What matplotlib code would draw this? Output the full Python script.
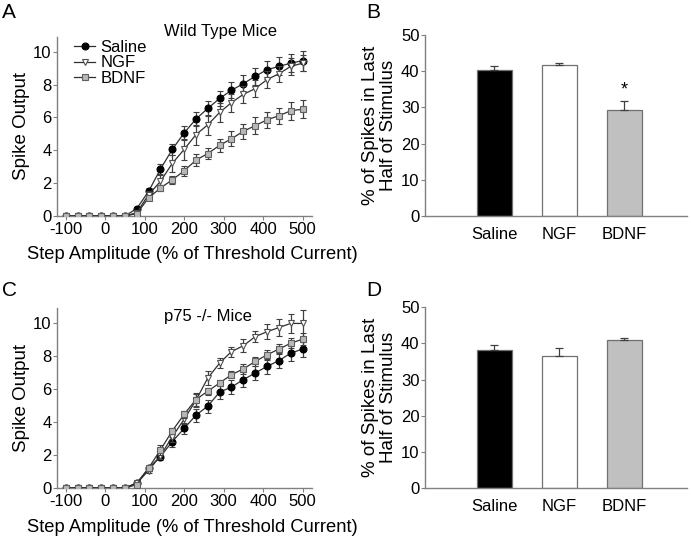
import matplotlib
matplotlib.use("Agg")
import matplotlib.pyplot as plt
import numpy as np

plt.rcParams['font.family'] = ['Liberation Sans', 'DejaVu Sans']
plt.rcParams['axes.unicode_minus'] = False

# step amplitudes (% of threshold current)
steps = list(range(-100, 501, 30))

# Panel A - wild type mice
wt_saline = [0, 0, 0, 0, 0, 0, 0.45, 1.5, 2.85, 4.05, 5.05, 5.9, 6.55, 7.15, 7.65, 8.05, 8.5, 8.9, 9.1, 9.3, 9.45]
wt_saline_err = [0, 0, 0, 0, 0, 0, 0.1, 0.2, 0.3, 0.35, 0.4, 0.4, 0.45, 0.45, 0.5, 0.5, 0.5, 0.55, 0.55, 0.55, 0.6]
wt_ngf = [0, 0, 0, 0, 0, 0, 0.2, 1.3, 2.1, 3.2, 4.05, 4.95, 5.55, 6.3, 6.9, 7.4, 7.75, 8.3, 8.65, 9.1, 9.3]
wt_ngf_err = [0, 0, 0, 0, 0, 0, 0.1, 0.2, 0.4, 0.5, 0.65, 0.6, 0.6, 0.6, 0.55, 0.5, 0.5, 0.5, 0.5, 0.5, 0.5]
wt_bdnf = [0, 0, 0, 0, 0, 0, 0.15, 1.1, 1.7, 2.2, 2.75, 3.4, 3.8, 4.3, 4.7, 5.15, 5.5, 5.85, 6.1, 6.4, 6.5]
wt_bdnf_err = [0, 0, 0, 0, 0, 0, 0.1, 0.15, 0.2, 0.25, 0.3, 0.35, 0.35, 0.4, 0.45, 0.45, 0.5, 0.5, 0.5, 0.55, 0.55]

# Panel C - p75 -/- mice
ko_saline = [0, 0, 0, 0, 0, 0, 0.3, 1.2, 1.9, 2.8, 3.6, 4.4, 4.95, 5.8, 6.1, 6.55, 6.95, 7.35, 7.7, 8.15, 8.4]
ko_saline_err = [0, 0, 0, 0, 0, 0, 0.1, 0.15, 0.2, 0.3, 0.35, 0.4, 0.4, 0.4, 0.4, 0.45, 0.45, 0.45, 0.45, 0.45, 0.45]
ko_ngf = [0, 0, 0, 0, 0, 0, 0.3, 1.05, 1.95, 3.1, 4.15, 5.3, 6.65, 7.55, 8.25, 8.6, 9.15, 9.45, 9.7, 9.95, 9.95]
ko_ngf_err = [0, 0, 0, 0, 0, 0, 0.1, 0.15, 0.2, 0.3, 0.3, 0.4, 0.4, 0.3, 0.3, 0.4, 0.35, 0.45, 0.5, 0.6, 0.8]
ko_bdnf = [0, 0, 0, 0, 0, 0, 0.2, 1.2, 2.3, 3.45, 4.45, 5.35, 5.85, 6.35, 6.85, 7.2, 7.65, 8.05, 8.4, 8.75, 9.0]
ko_bdnf_err = [0, 0, 0, 0, 0, 0, 0.1, 0.15, 0.3, 0.2, 0.2, 0.4, 0.2, 0.2, 0.2, 0.3, 0.3, 0.3, 0.3, 0.3, 0.35]

# Panels B and D - % of spikes in last half of stimulus
groups = ["Saline", "NGF", "BDNF"]
wt_pct = [40.3, 41.7, 29.4]
wt_pct_err = [1.0, 0.6, 2.3]
ko_pct = [38.2, 36.4, 41.0]
ko_pct_err = [1.4, 2.2, 0.6]

bar_colors = ["black", "white", "#c0c0c0"]
spine_col = "#808080"

fig = plt.figure(figsize=(6.91, 5.38), dpi=100)

def style_axes(ax):
    for s in ["top", "right"]:
        ax.spines[s].set_visible(False)
    for s in ["left", "bottom"]:
        ax.spines[s].set_color(spine_col)
        ax.spines[s].set_linewidth(1.0)
    ax.tick_params(colors=spine_col, labelcolor="black", labelsize=12,
                   length=3, width=0.8, pad=1)

def line_panel(ax, sal, sal_e, ngf, ngf_e, bd, bd_e, title, title_xy, legend):
    ek = dict(ecolor="#404040", elinewidth=0.9, capsize=2.5, capthick=0.9, lw=0.9, color="#303030")
    ax.errorbar(steps, ngf, yerr=ngf_e, marker="v", ms=4.5, mfc="white", mec="#505050",
                mew=0.8, label="NGF", zorder=3, **ek)
    ax.errorbar(steps, bd, yerr=bd_e, marker="s", ms=4, mfc="#b8b8b8", mec="#606060",
                mew=0.8, label="BDNF", zorder=4, **ek)
    ax.errorbar(steps, sal, yerr=sal_e, marker="o", ms=5, mfc="black", mec="black",
                mew=0.8, label="Saline", zorder=2, **ek)
    ax.set_xlim(-122, 524)
    ax.set_ylim(0, 10.9)
    ax.set_xticks(range(-100, 501, 100))
    ax.set_yticks(range(0, 11, 2))
    ax.set_ylabel("Spike Output", fontsize=13.5, labelpad=2)
    ax.set_xlabel("Step Amplitude (% of Threshold Current)", fontsize=13.2)
    ax.xaxis.set_label_coords(0.53, -0.17)
    ax.text(title_xy[0], title_xy[1], title, transform=ax.transAxes, ha="center",
            va="center", fontsize=12)
    if legend:
        h, l = ax.get_legend_handles_labels()
        order = [2, 0, 1]
        ax.legend([h[i][0] for i in order], [l[i] for i in order], loc="upper left",
                  bbox_to_anchor=(0.02, 1.05), frameon=False, fontsize=12,
                  handlelength=1.3, handletextpad=0.3, labelspacing=0.05, borderpad=0.2)
    style_axes(ax)

def bar_panel(ax, vals, errs, star):
    x = np.arange(len(groups))
    ax.bar(x, vals, width=0.54, color=bar_colors, edgecolor="#707070", linewidth=0.9,
           yerr=[[0] * len(errs), errs], error_kw=dict(ecolor="#404040", elinewidth=0.9,
           capsize=3, capthick=0.9))
    if star:
        ax.text(2, vals[2] + errs[2] + 0.8, "*", ha="center", va="bottom", fontsize=13)
    ax.set_xlim(-1.07, 2.96)
    ax.set_ylim(0, 50)
    ax.set_xticks(x)
    ax.set_xticklabels(groups)
    ax.set_yticks(range(0, 51, 10))
    ax.set_ylabel("% of Spikes in Last\nHalf of Stimulus", fontsize=13.5, labelpad=3,
                  linespacing=1.05)
    style_axes(ax)
    ax.tick_params(axis="x", length=0, pad=8)

axA = fig.add_axes([0.0825, 0.5985, 0.369, 0.333])
axB = fig.add_axes([0.615, 0.5985, 0.379, 0.3365])
axC = fig.add_axes([0.0825, 0.093, 0.369, 0.335])
axD = fig.add_axes([0.615, 0.093, 0.379, 0.336])

line_panel(axA, wt_saline, wt_saline_err, wt_ngf, wt_ngf_err, wt_bdnf, wt_bdnf_err,
           "Wild Type Mice", (0.64, 1.03), True)
line_panel(axC, ko_saline, ko_saline_err, ko_ngf, ko_ngf_err, ko_bdnf, ko_bdnf_err,
           "p75 -/- Mice", (0.59, 0.95), False)
bar_panel(axB, wt_pct, wt_pct_err, True)
bar_panel(axD, ko_pct, ko_pct_err, False)

for lab, (fx, fy) in zip("ABCD", [(0.003, 0.995), (0.53, 0.995), (0.003, 0.477), (0.53, 0.477)]):
    fig.text(fx, fy, lab, fontsize=15, ha="left", va="top")

fig.savefig("out.png", dpi=100)
